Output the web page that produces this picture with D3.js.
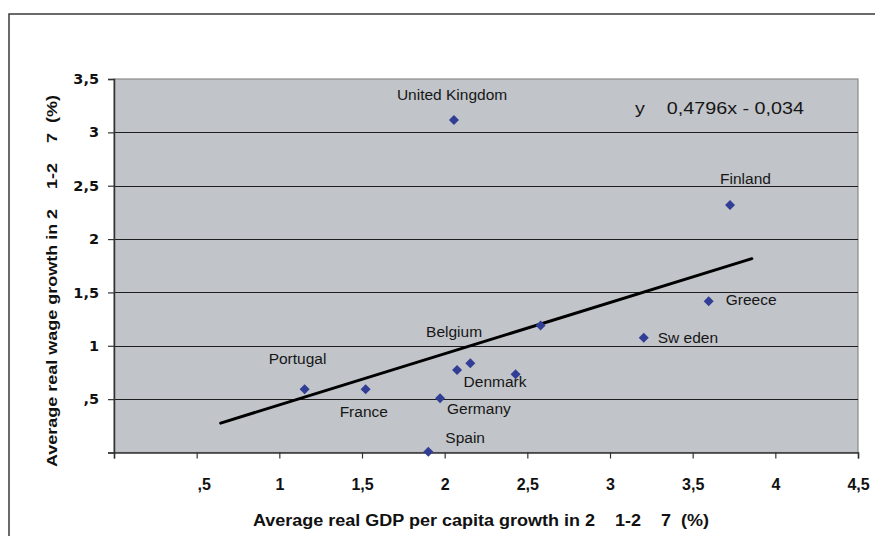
<!DOCTYPE html>
<html>
<head>
<meta charset="utf-8">
<script src="https://cdn.jsdelivr.net/npm/d3@7"></script>
<style>
  html, body { margin: 0; padding: 0; background: #fff; }
  svg { display: block; }
  text { white-space: pre; }
</style>
</head>
<body>
<svg id="chart" width="875" height="536"></svg>
<script>
// Country observations: average real GDP per capita growth (x) vs average real wage growth (y)
const countries  = ["United Kingdom", "Finland", "Greece", "Sw eden", "Portugal", "France",
                    "Germany", "Spain", "Belgium", "Denmark", "", ""];
const gdpGrowth  = [2.056, 3.726, 3.597, 3.204, 1.153, 1.522, 1.972, 1.901, 2.075, 2.429, 2.155, 2.580];
const wageGrowth = [3.116, 2.319, 1.417, 1.076, 0.592, 0.592, 0.508, 0.008, 0.773, 0.733, 0.836, 1.190];

// Linear trend line coefficients and drawn extent
const trendSlope = 0.4796;
const trendIntercept = -0.034;
const trendRange = [0.645, 3.858];

// Axis ticks
const xTickValues = [0, 0.5, 1, 1.5, 2, 2.5, 3, 3.5, 4, 4.5];
const xTickLabels = ["", ",5", "1", "1,5", "2", "2,5", "3", "3,5", "4", "4,5"];
const yTickValues = [0, 0.5, 1, 1.5, 2, 2.5, 3, 3.5];
const yTickLabels = ["", ",5", "1", "1,5", "2", "2,5", "3", "3,5"];

const xTitle = "Average real GDP per capita growth in 2    1-2    7  (%)";
const yTitle = "Average real wage growth in 2    1-2    7  (%)";

// Hand-placed label offsets (pixels from the marker centre, text starts here)
const labelOffsets = [[-57, -20], [-10, -21], [17, 4], [14, 5], [-36, -25], [-26, 28],
                      [7, 16], [17, -9], [-31, -33], [-52, 13], [0, 0], [0, 0]];

const svg = d3.select("#chart");
const plot = { left: 114, right: 858, top: 79, bottom: 452.5 };

const x = d3.scaleLinear().domain([0, 4.5]).range([plot.left, plot.right]);
const y = d3.scaleLinear().domain([0, 3.5]).range([plot.bottom, plot.top]);

// Outer chart frame
svg.append("rect")
  .attr("x", 9).attr("y", 14).attr("width", 1000).attr("height", 1000)
  .attr("fill", "#fff").attr("stroke", "#3a3a3a").attr("stroke-width", 1.5);

// Plot area
svg.append("rect")
  .attr("x", plot.left).attr("y", plot.top)
  .attr("width", plot.right - plot.left).attr("height", plot.bottom - plot.top)
  .attr("fill", "#c1c4c9").attr("stroke", "#8a8a8a").attr("stroke-width", 1.2);

// Horizontal gridlines
svg.append("g")
  .selectAll("line")
  .data(yTickValues.filter(v => v > 0 && v < 3.5))
  .join("line")
  .attr("x1", plot.left).attr("x2", plot.right)
  .attr("y1", d => Math.round(y(d)) + 0.5).attr("y2", d => Math.round(y(d)) + 0.5)
  .attr("stroke", "#1e1e1e").attr("stroke-width", 1);

// Y axis
const yAxis = svg.append("g")
  .attr("transform", `translate(${plot.left},0)`)
  .call(d3.axisLeft(y).tickValues(yTickValues)
    .tickFormat((d, i) => yTickLabels[i]).tickSize(6).tickPadding(9));
yAxis.select(".domain").attr("stroke", "#333").attr("stroke-width", 1.5);
yAxis.selectAll(".tick line").attr("stroke", "#333").attr("stroke-width", 1.2);
yAxis.selectAll(".tick text")
  .attr("font-family", "'DejaVu Sans', sans-serif")
  .attr("font-weight", "bold").attr("font-size", 14.5).attr("fill", "#111");

// X axis
const xAxis = svg.append("g")
  .attr("transform", `translate(0,${plot.bottom})`)
  .call(d3.axisBottom(x).tickValues(xTickValues)
    .tickFormat((d, i) => xTickLabels[i]).tickSize(6).tickPadding(20));
xAxis.select(".domain").attr("stroke", "#333").attr("stroke-width", 1.5);
xAxis.selectAll(".tick line").attr("stroke", "#333").attr("stroke-width", 1.2);
xAxis.selectAll(".tick text")
  .attr("font-family", "'Liberation Sans Narrow', 'Arial Narrow', 'Liberation Sans', sans-serif")
  .attr("font-weight", "bold").attr("font-size", 16).attr("fill", "#111")
  .attr("dx", (d, i) => xTickLabels[i].startsWith(",") ? 7 : 0);

// Trend line
svg.append("line")
  .attr("x1", x(trendRange[0])).attr("y1", y(trendSlope * trendRange[0] + trendIntercept))
  .attr("x2", x(trendRange[1])).attr("y2", y(trendSlope * trendRange[1] + trendIntercept))
  .attr("stroke", "#000").attr("stroke-width", 3).attr("stroke-linecap", "round");

// Markers
const diamond = d3.symbol().type(d3.symbolSquare).size(50);
svg.append("g")
  .selectAll("path")
  .data(gdpGrowth.map((g, i) => ({ g, w: wageGrowth[i] })))
  .join("path")
  .attr("d", diamond)
  .attr("transform", d => `translate(${x(d.g)},${y(d.w)}) rotate(45)`)
  .attr("fill", "#323e96");

// Point labels
svg.append("g")
  .selectAll("text")
  .data(countries.map((c, i) => ({ c, g: gdpGrowth[i], w: wageGrowth[i], o: labelOffsets[i] }))
    .filter(d => d.c !== ""))
  .join("text")
  .attr("x", d => x(d.g) + d.o[0])
  .attr("y", d => y(d.w) + d.o[1])
  .attr("font-family", "'Liberation Sans', Arial, sans-serif")
  .attr("font-size", 15.5).attr("fill", "#161616")
  .text(d => d.c);

// Trend equation
const fmt = v => v.toString().replace(".", ",");
svg.append("text")
  .attr("x", 635).attr("y", 114)
  .attr("font-family", "'Liberation Sans', Arial, sans-serif")
  .attr("font-size", 16).attr("fill", "#161616")
  .attr("textLength", 169).attr("lengthAdjust", "spacingAndGlyphs")
  .text(`y    ${fmt(trendSlope)}x - ${fmt(-trendIntercept)}`);

// Axis titles
svg.append("text")
  .attr("x", 253).attr("y", 526)
  .attr("font-family", "'Liberation Sans', Arial, sans-serif")
  .attr("font-weight", "bold").attr("font-size", 16).attr("fill", "#111")
  .attr("textLength", 456).attr("lengthAdjust", "spacingAndGlyphs")
  .text(xTitle);

svg.append("text")
  .attr("transform", "translate(57,467) rotate(-90)")
  .attr("font-family", "'Liberation Sans', Arial, sans-serif")
  .attr("font-weight", "bold").attr("font-size", 15.5).attr("fill", "#111")
  .attr("textLength", 372).attr("lengthAdjust", "spacingAndGlyphs")
  .text(yTitle);
</script>
</body>
</html>
